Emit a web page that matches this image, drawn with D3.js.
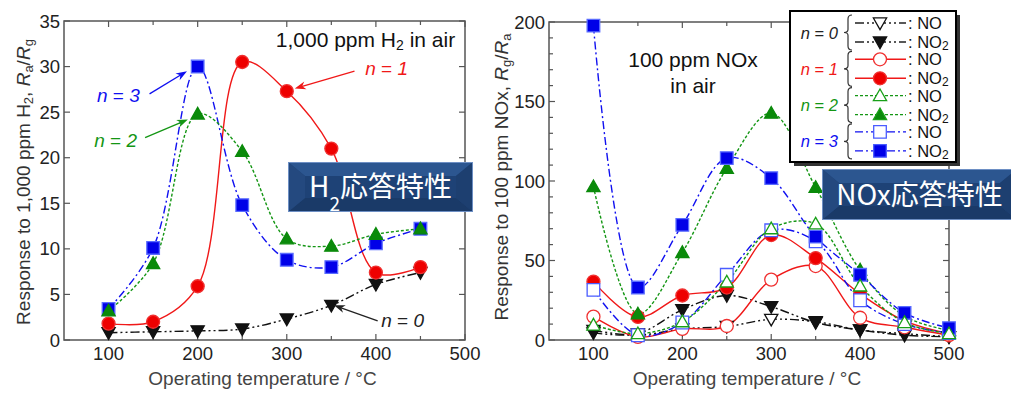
<!DOCTYPE html>
<html>
<head>
<meta charset="utf-8">
<script src="https://cdn.jsdelivr.net/npm/d3@7"></script>
<style>
  body { margin: 0; background: #fff; }
  text { font-family: "Liberation Sans", Arial, sans-serif; }
</style>
</head>
<body>
<div id="chart"></div>
<script>
// ---------------- data
var tempsH2 = [100, 150, 200, 250, 300, 350, 400, 450];
var h2N0 = [0.8, 0.9, 1.0, 1.2, 2.3, 3.8, 6.1, 7.4];
var h2N1 = [1.8, 2.0, 5.9, 30.5, 27.3, 21.0, 7.4, 8.0];
var h2N2 = [3.2, 8.4, 24.8, 20.7, 11.1, 10.3, 11.6, 12.2];
var h2N3 = [3.4, 10.1, 30.0, 14.8, 8.8, 8.0, 10.6, 12.2];

var tempsNOx = [100, 150, 200, 250, 300, 350, 400, 450, 500];
var noN0  = [6.0, 3.0, 7.0, 8.5, 13.0, 11.5, 6.3, 4.0, 2.0];
var no2N0 = [4.5, 4.0, 19.0, 28.0, 21.0, 11.0, 6.3, 3.0, 2.0];
var noN1  = [14.7, 2.0, 7.0, 8.8, 38.0, 46.5, 14.0, 8.0, 3.0];
var no2N1 = [36.7, 14.5, 28.0, 33.0, 66.0, 51.5, 29.0, 12.0, 4.0];
var noN2  = [9.4, 4.0, 11.5, 36.5, 70.0, 73.0, 34.0, 11.0, 4.0];
var no2N2 = [96.5, 16.4, 55.0, 108.0, 142.7, 96.0, 44.0, 15.0, 6.0];
var noN3  = [31.5, 3.0, 11.0, 41.0, 69.0, 62.0, 25.0, 10.0, 4.4];
var no2N3 = [197.7, 33.0, 72.4, 114.4, 101.8, 65.0, 41.0, 17.0, 7.5];

var xTicks = [100, 200, 300, 400, 500];
var yTicksH2 = [0, 5, 10, 15, 20, 25, 30, 35];
var yTicksNOx = [0, 50, 100, 150, 200];

// ---------------- styles
var RED = "#f01818", GREEN = "#149614", BLUE = "#1010f0", BLACK = "#111";
var dash = {
  n0: "9,3,2,3,2,3",
  n1: null,
  n2: "3,2",
  n3: "8,3,2,3"
};

var svg = d3.select("#chart").append("svg")
  .attr("width", 1011)
  .attr("height", 394);

// marker shapes, s = half size
function markerPath(shape, s) {
  if (shape == "square") return `M${-s},${-s}h${2*s}v${2*s}h${-2*s}Z`;
  if (shape == "up") return `M0,${-s*1.05}L${s*1.05},${s*0.8}L${-s*1.05},${s*0.8}Z`;
  if (shape == "down") return `M0,${s*1.05}L${s*1.05},${-s*0.8}L${-s*1.05},${-s*0.8}Z`;
  return d3.arc()({innerRadius: 0, outerRadius: s, startAngle: 0, endAngle: 2*Math.PI});
}

function drawPanel(p) {
  var x = d3.scaleLinear().domain([50, 500]).range([p.left, p.right]);
  var y = d3.scaleLinear().domain([0, p.ymax]).range([p.bottom, p.top]);
  var g = svg.append("g");

  // frame
  g.append("rect")
    .attr("x", p.left).attr("y", p.top)
    .attr("width", p.right - p.left).attr("height", p.bottom - p.top)
    .attr("fill", "none").attr("stroke", "#555").attr("stroke-width", 1.5);

  // ticks (inward, all four sides)
  var xMinor = d3.range(100, 501, 50);
  var yMinor = d3.range(0, p.ymax + 0.01, p.minor);
  var tickG = g.append("g").attr("stroke", "#555").attr("stroke-width", 1.2);
  xMinor.forEach(function (v) {
    var len = xTicks.indexOf(v) >= 0 ? 6 : 4;
    tickG.append("line").attr("x1", x(v)).attr("x2", x(v)).attr("y1", p.bottom).attr("y2", p.bottom - len);
    tickG.append("line").attr("x1", x(v)).attr("x2", x(v)).attr("y1", p.top).attr("y2", p.top + len);
  });
  yMinor.forEach(function (v) {
    var len = p.yTicks.indexOf(v) >= 0 ? 6 : 4;
    tickG.append("line").attr("y1", y(v)).attr("y2", y(v)).attr("x1", p.left).attr("x2", p.left + len);
    tickG.append("line").attr("y1", y(v)).attr("y2", y(v)).attr("x1", p.right).attr("x2", p.right - len);
  });

  // tick labels
  g.selectAll(".xl").data(xTicks).enter().append("text")
    .attr("x", d => x(d)).attr("y", p.bottom + 20)
    .attr("text-anchor", "middle").attr("font-size", 18.5).attr("fill", "#222")
    .text(d => d);
  g.selectAll(".yl").data(p.yTicks).enter().append("text")
    .attr("x", p.left - 4).attr("y", d => y(d) + 6.5)
    .attr("text-anchor", "end").attr("font-size", 18.5).attr("fill", "#222")
    .text(d => d);

  // axis titles
  g.append("text")
    .attr("x", (p.left + p.right) / 2 - 2).attr("y", 385)
    .attr("text-anchor", "middle").attr("font-size", 19).attr("fill", "#444")
    .text("Operating temperature / °C");

  var yt = g.append("text")
    .attr("transform", `translate(${p.ylabX},${p.ylabY}) rotate(-90)`)
    .attr("text-anchor", "middle").attr("font-size", 19).attr("fill", "#333");
  p.ylabel(yt);

  // curves
  var line = d3.line().x(d => x(d[0])).y(d => y(d[1])).curve(d3.curveCatmullRom.alpha(0.5));
  p.series.forEach(function (s) {
    var pts = s.t.map((t, i) => [t, s.v[i]]);
    g.append("path")
      .attr("d", line(pts))
      .attr("fill", "none")
      .attr("stroke", s.color)
      .attr("stroke-width", 1.4)
      .attr("stroke-dasharray", s.dash);
  });
  // markers
  p.series.forEach(function (s) {
    g.selectAll(null).data(s.t.map((t, i) => [t, s.v[i]])).enter().append("path")
      .attr("d", markerPath(s.shape, s.shape == "circle" ? 6.5 : 6.3))
      .attr("transform", d => `translate(${x(d[0])},${y(d[1])})`)
      .attr("fill", s.filled ? s.fill : "#fff")
      .attr("stroke", s.stroke)
      .attr("stroke-width", 1.3);
  });

  return {x: x, y: y, g: g};
}

function subLabel(t, parts, subSize) {
  parts.forEach(function (q) {
    var ts = t.append("tspan").text(q[0]);
    if (q[1] == "i") ts.attr("font-style", "italic");
    if (q[1] == "sub") ts.attr("baseline-shift", "-20%").attr("font-size", subSize || 13);
  });
}

// ---------------- left panel: H2
var left = drawPanel({
  left: 64, right: 465, top: 21, bottom: 340, ymax: 35, minor: 5,
  yTicks: yTicksH2, ylabX: 30, ylabY: 182,
  ylabel: t => subLabel(t, [["Response to 1,000 ppm H"], ["2", "sub"], [", "], ["R", "i"], ["a", "sub"], ["/"], ["R", "i"], ["g", "sub"]]),
  series: [
    {t: tempsH2, v: h2N0, color: BLACK, dash: dash.n0, shape: "down", filled: true, fill: BLACK, stroke: BLACK},
    {t: tempsH2, v: h2N1, color: RED, dash: dash.n1, shape: "circle", filled: true, fill: "#ee0000", stroke: "#f03030"},
    {t: tempsH2, v: h2N3, color: BLUE, dash: dash.n3, shape: "square", filled: true, fill: "#0000e8", stroke: "#5a6cff"},
    {t: tempsH2, v: h2N2, color: GREEN, dash: dash.n2, shape: "up", filled: true, fill: "#0a8a0a", stroke: "#0a8a0a"}
  ]
});

// annotations, left
function arrow(g, x1, y1, x2, y2, color) {
  var a = Math.atan2(y2 - y1, x2 - x1), L = 11, W = 4;
  g.append("line").attr("x1", x1).attr("y1", y1)
    .attr("x2", x2 - Math.cos(a) * 6).attr("y2", y2 - Math.sin(a) * 6)
    .attr("stroke", color).attr("stroke-width", 1.3);
  var bx = x2 - Math.cos(a) * L, by = y2 - Math.sin(a) * L;
  var nx = -Math.sin(a) * W, ny = Math.cos(a) * W;
  var ix = x2 - Math.cos(a) * L * 0.7, iy = y2 - Math.sin(a) * L * 0.7;
  g.append("path")
    .attr("d", `M${x2},${y2}L${bx + nx},${by + ny}L${ix},${iy}L${bx - nx},${by - ny}Z`)
    .attr("fill", color);
}
function nLabel(g, x, y, n, color, anchor, size) {
  var t = g.append("text").attr("x", x).attr("y", y)
    .attr("text-anchor", anchor || "start")
    .attr("font-size", size || 19).attr("fill", color);
  t.append("tspan").attr("font-style", "italic").text("n");
  t.append("tspan").text(" = ");
  t.append("tspan").attr("font-style", "italic").text(n);
}

var lx = left.x, ly = left.y;
var t1 = left.g.append("text").attr("x", lx(489)).attr("y", ly(32.2))
  .attr("text-anchor", "end").attr("font-size", 21).attr("fill", "#111");
subLabel(t1, [["1,000 ppm H"], ["2", "sub"], [" in air"]], 14);

nLabel(left.g, lx(388), ly(29.1), "1", RED);
arrow(left.g, lx(376), ly(29.5), lx(309), ly(27.6), RED);
nLabel(left.g, lx(135), ly(26.1), "3", BLUE, "end");
arrow(left.g, lx(146), ly(27.0), lx(188), ly(29.5), BLUE);
nLabel(left.g, lx(132), ly(21.2), "2", GREEN, "end");
arrow(left.g, lx(141), ly(22.2), lx(189), ly(24.2), GREEN);
nLabel(left.g, lx(406), ly(1.4), "0", "#222");
arrow(left.g, lx(402), ly(2.1), lx(353), ly(3.8), "#222");

// ---------------- right panel: NOx
var right = drawPanel({
  left: 549, right: 949, top: 22, bottom: 340, ymax: 200, minor: 10,
  yTicks: yTicksNOx, ylabX: 508, ylabY: 177,
  ylabel: t => subLabel(t, [["Response to 100 ppm NOx, "], ["R", "i"], ["g", "sub"], ["/"], ["R", "i"], ["a", "sub"]]),
  series: [
    {t: tempsNOx, v: noN0, color: BLACK, dash: dash.n0, shape: "down", filled: false, stroke: BLACK},
    {t: tempsNOx, v: no2N0, color: BLACK, dash: dash.n0, shape: "down", filled: true, fill: BLACK, stroke: BLACK},
    {t: tempsNOx, v: noN1, color: RED, dash: dash.n1, shape: "circle", filled: false, stroke: "#f03030"},
    {t: tempsNOx, v: no2N1, color: RED, dash: dash.n1, shape: "circle", filled: true, fill: "#ee0000", stroke: "#f03030"},
    {t: tempsNOx, v: no2N2, color: GREEN, dash: dash.n2, shape: "up", filled: true, fill: "#0a8a0a", stroke: "#0a8a0a"},
    {t: tempsNOx, v: noN3, color: BLUE, dash: dash.n3, shape: "square", filled: false, stroke: "#4a5cff"},
    {t: tempsNOx, v: no2N3, color: BLUE, dash: dash.n3, shape: "square", filled: true, fill: "#0000e8", stroke: "#5a6cff"},
    {t: tempsNOx, v: noN2, color: GREEN, dash: dash.n2, shape: "up", filled: false, stroke: "#18a018"}
  ]
});

right.g.append("text").attr("x", right.x(212)).attr("y", right.y(171.7))
  .attr("text-anchor", "middle").attr("font-size", 21).attr("fill", "#111")
  .text("100 ppm NOx");
right.g.append("text").attr("x", right.x(212)).attr("y", right.y(155.3))
  .attr("text-anchor", "middle").attr("font-size", 21).attr("fill", "#111")
  .text("in air");

// ---------------- legend
var legendRows = [
  {n: "0", color: "#222", dash: dash.n0, shape: "down", stroke: BLACK, fill: BLACK},
  {n: "1", color: RED, dash: dash.n1, shape: "circle", stroke: "#f03030", fill: "#ee0000"},
  {n: "2", color: GREEN, dash: dash.n2, shape: "up", stroke: "#18a018", fill: "#0a8a0a"},
  {n: "3", color: BLUE, dash: dash.n3, shape: "square", stroke: "#4a5cff", fill: "#0000e8"}
];
var leg = svg.append("g");
leg.append("rect").attr("x", 794).attr("y", 15).attr("width", 166).attr("height", 151).attr("fill", "#333");
leg.append("rect").attr("x", 790).attr("y", 11).attr("width", 166).attr("height", 151)
  .attr("fill", "#fff").attr("stroke", "#000").attr("stroke-width", 2);

legendRows.forEach(function (r, i) {
  var y0 = 23 + i * 36.3, y1 = y0 + 19, ym = (y0 + y1) / 2;
  nLabel(leg, 838, ym + 6, r.n, r.color, "end", 16.5);
  var bx = 848;
  leg.append("path")
    .attr("d", `M${bx + 4},${y0 - 8}Q${bx},${y0 - 8} ${bx},${y0 - 4}L${bx},${ym - 3}Q${bx},${ym} ${bx - 4},${ym}Q${bx},${ym} ${bx},${ym + 3}L${bx},${y1 + 4}Q${bx},${y1 + 8} ${bx + 4},${y1 + 8}`)
    .attr("fill", "none").attr("stroke", "#333").attr("stroke-width", 1.2);
  [y0, y1].forEach(function (yy, k) {
    leg.append("line").attr("x1", 855).attr("x2", 906).attr("y1", yy).attr("y2", yy)
      .attr("stroke", r.color).attr("stroke-width", 1.4).attr("stroke-dasharray", r.dash);
    leg.append("path").attr("d", markerPath(r.shape, r.shape == "circle" ? 6.5 : 6.3))
      .attr("transform", `translate(880,${yy})`)
      .attr("fill", k == 0 ? "#fff" : r.fill)
      .attr("stroke", r.stroke).attr("stroke-width", 1.3);
    var tt = leg.append("text").attr("x", 908).attr("y", yy + 6)
      .attr("font-size", 16.5).attr("fill", "#111");
    subLabel(tt, k == 0 ? [[": NO"]] : [[": NO"], ["2", "sub"]], 12);
  });
});

// ---------------- blue title boxes
function bevelBox(x0, y0, w, h, parts) {
  var b = svg.append("g"), bw = 17, bh = 14;
  var x1 = x0 + w, y1 = y0 + h;
  b.append("rect").attr("x", x0).attr("y", y0).attr("width", w).attr("height", h).attr("fill", "#1e4276");
  b.append("path").attr("d", `M${x0},${y0}L${x1},${y0}L${x1 - bw},${y0 + bh}L${x0 + bw},${y0 + bh}Z`).attr("fill", "#2c5690");
  b.append("path").attr("d", `M${x0},${y1}L${x1},${y1}L${x1 - bw},${y1 - bh}L${x0 + bw},${y1 - bh}Z`).attr("fill", "#1a3a68");
  b.append("path").attr("d", `M${x0},${y0}L${x0 + bw},${y0 + bh}L${x0 + bw},${y1 - bh}L${x0},${y1}Z`).attr("fill", "#24497f");
  b.append("path").attr("d", `M${x1},${y0}L${x1 - bw},${y0 + bh}L${x1 - bw},${y1 - bh}L${x1},${y1}Z`).attr("fill", "#1d3f70");
  b.append("rect").attr("x", x0 + 0.5).attr("y", y0 + 0.5).attr("width", w - 1).attr("height", h - 1)
    .attr("fill", "none").attr("stroke", "#6d8fc4").attr("stroke-width", 1);
  var t = b.append("text").attr("x", x0 + w / 2).attr("y", y0 + h / 2 + 10)
    .attr("text-anchor", "middle").attr("font-size", 28).attr("fill", "#fff")
    .style("font-family", "'Noto Sans CJK JP', 'Liberation Sans', sans-serif");
  parts.forEach(function (q) {
    var ts = t.append("tspan").text(q[0]);
    if (q[1] == "sub") ts.attr("baseline-shift", "sub").attr("font-size", 19);
  });
}
bevelBox(288, 162, 185, 50, [["H"], ["2", "sub"], ["応答特性"]]);
bevelBox(822, 169, 195, 51, [["NOx応答特性"]]);
</script>
</body>
</html>
